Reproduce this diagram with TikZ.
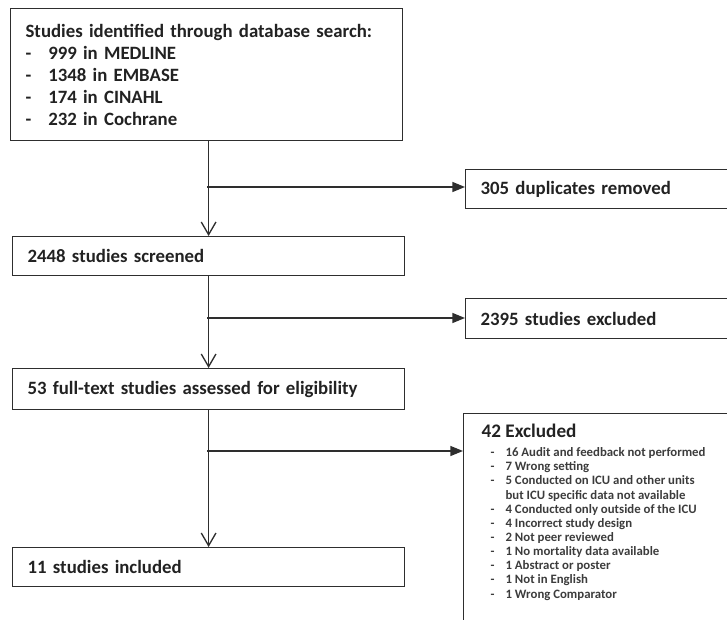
\documentclass[tikz,border=0pt]{standalone}
\usepackage{fontspec}
\setmainfont{Carlito}
\usetikzlibrary{arrows.meta, positioning, calc}
\definecolor{inkgray}{HTML}{222222}
\definecolor{itemgray}{HTML}{3C3C3C}
\definecolor{linegray}{HTML}{2E2E2E}
\newcommand{\dashitem}[1]{\hspace*{6.75pt}\makebox[11.25pt][l]{-}#1\\}
\tikzset{x=0.75pt, y=-0.75pt, % pixel grid of the scanned chart
    flowbox/.style={ % boxes on the main column
    draw=linegray, line width=0.9pt, fill=white,
    anchor=north west, inner xsep=11.25pt, inner ysep=0pt,
    text width=271.5pt, align=left, text=inkgray,
    font=\fontsize{14.1}{16.5}\selectfont\bfseries},
    sidebox/.style={flowbox, text width=202.5pt},
    downarrow/.style={draw=linegray, line width=1pt,
    -{Straight Barb[length=9.5pt,width=11pt]}},
    sidearrow/.style={draw=linegray, line width=1pt,
    -{Triangle[length=9.5pt,width=7.5pt]}}}

\begin{document}
\begin{tikzpicture}
    \useasboundingbox (0,0) rectangle (727,620);
    \clip (0,0) rectangle (727,620);

    % Main column
    \node[flowbox, minimum height=99pt] (search) at (10,8) {Studies identified through database search:\\
        \makebox[17pt][l]{-}999 in MEDLINE\\
        \makebox[17pt][l]{-}1348 in EMBASE\\
        \makebox[17pt][l]{-}174 in CINAHL\\
        \makebox[17pt][l]{-}232 in Cochrane};
    \node[flowbox, minimum height=29.25pt] (screened) at (12,236) {2448 studies screened};
    \node[flowbox, minimum height=30.75pt] (fulltext) at (12,368) {53 full-text studies assessed for eligibility};
    \node[flowbox, minimum height=29.25pt] (included) at (12,547) {11 studies included};

    % Side column
    \node[sidebox, minimum height=29.25pt] (dupes) at (465,169) {305 duplicates removed};
    \node[sidebox, minimum height=30pt] (excluded) at (465,298) {2395 studies excluded};
    \node[draw=linegray, line width=0.9pt, anchor=north west, inner xsep=13.5pt, inner ysep=8pt] (reasons) at (463,413)
        {\parbox[t][170pt][t]{200pt}{\raggedright\color{inkgray}\bfseries
        {\fontsize{14.4}{17}\selectfont 42 Excluded\par}\vspace{3.6pt}
        {\color{itemgray}\fontsize{9.6}{10.6}\selectfont
        \dashitem{16 Audit and feedback not performed}
        \dashitem{7 Wrong setting}
        \dashitem{5 Conducted on ICU and other units}
        \hspace*{18pt}but ICU specific data not available\\
        \dashitem{4 Conducted only outside of the ICU}
        \dashitem{4 Incorrect study design}
        \dashitem{2 Not peer reviewed}
        \dashitem{1 No mortality data available}
        \dashitem{1 Abstract or poster}
        \dashitem{1 Not in English}
        \hspace*{6.75pt}\makebox[11.25pt][l]{-}1 Wrong Comparator\par}}};

    % Connectors
    \coordinate (j1) at (207,187);
    \coordinate (j2) at (207,318);
    \coordinate (j3) at (207,451);
    \draw[downarrow] (search.south -| screened.north) -- (screened.north);
    \draw[downarrow] (screened.south) -- (fulltext.north);
    \draw[downarrow] (fulltext.south) -- (included.north);
    \draw[sidearrow] (j1) -- (j1 -| dupes.west);
    \draw[sidearrow] (j2) -- (j2 -| excluded.west);
    \draw[sidearrow] (j3) -- (j3 -| reasons.west);
\end{tikzpicture}
\end{document}
